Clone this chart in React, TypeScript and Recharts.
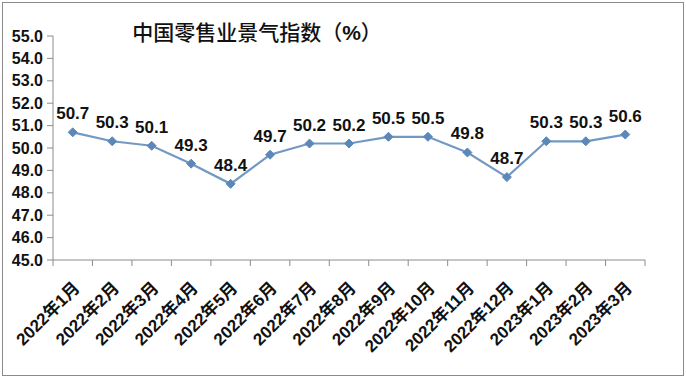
import { LineChart, Line, XAxis, YAxis, LabelList } from "recharts";

const months = [
  "2022年1月",
  "2022年2月",
  "2022年3月",
  "2022年4月",
  "2022年5月",
  "2022年6月",
  "2022年7月",
  "2022年8月",
  "2022年9月",
  "2022年10月",
  "2022年11月",
  "2022年12月",
  "2023年1月",
  "2023年2月",
  "2023年3月",
];
const retailIndex = [50.7, 50.3, 50.1, 49.3, 48.4, 49.7, 50.2, 50.2, 50.5, 50.5, 49.8, 48.7, 50.3, 50.3, 50.6];
const yTicks = [45, 46, 47, 48, 49, 50, 51, 52, 53, 54, 55];

const data = months.map((month, i) => ({ month, value: retailIndex[i] }));

const W = 686;
const H = 378;
const xAxisHeight = 118;
const margin = { top: 36, right: 41, bottom: 0, left: 0 };
const yAxisWidth = 53;
const halfBand = (W - margin.right - yAxisWidth) / months.length / 2;
const axisColor = "#8c8c8c";
const font = "'Liberation Sans', Arial, 'Noto Sans CJK SC', sans-serif";

function MonthTick(props: any) {
  const { x, y, payload, index } = props;
  const last = index === months.length - 1;
  return (
    <g>
      <line x1={x - halfBand} y1={y} x2={x - halfBand} y2={y + 6} stroke={axisColor} />
      {last && <line x1={x + halfBand} y1={y} x2={x + halfBand} y2={y + 6} stroke={axisColor} />}
      <text
        x={x + 8}
        y={y + 29}
        textAnchor="end"
        transform={`rotate(-45, ${x + 8}, ${y + 29})`}
        fontSize={17}
        fontWeight="bold"
        fontFamily={font}
        fill="#111"
      >
        {payload.value}
      </text>
    </g>
  );
}

function Diamond(props: any) {
  const { cx, cy } = props;
  if (cx == null || cy == null) return null;
  const r = 4.5;
  return (
    <path
      d={`M${cx},${cy - r} L${cx + r},${cy} L${cx},${cy + r} L${cx - r},${cy} Z`}
      fill="#5b88b8"
      stroke="#5b88b8"
    />
  );
}

export default function App() {
  return (
    <div style={{ position: "absolute", left: 0, top: 0, width: W, height: H, background: "#fff" }}>
      <div
        style={{
          position: "absolute",
          left: 2,
          top: 2,
          width: W - 6,
          height: H - 6,
          border: "1.5px solid #8a8a8a",
        }}
      />
      <div
        style={{
          position: "absolute",
          left: 0,
          width: 514,
          top: 16,
          textAlign: "center",
          fontSize: 21,
          fontFamily: "'Noto Sans CJK SC', sans-serif",
          fontWeight: 500,
          color: "#111",
          lineHeight: "30px",
        }}
      >
        中国零售业景气指数（<b style={{ fontFamily: "'Liberation Sans', Arial" }}>%</b>）
      </div>
      <LineChart width={W} height={H} data={data} margin={margin} style={{ position: "absolute", left: 0, top: 0 }}>
        <XAxis
          dataKey="month"
          interval={0}
          padding={{ left: halfBand, right: halfBand }}
          tickSize={0}
          tickMargin={0}
          tickLine={false}
          axisLine={{ stroke: axisColor }}
          tick={<MonthTick />}
          height={xAxisHeight}
        />
        <YAxis
          domain={[45, 55]}
          ticks={yTicks}
          interval={0}
          width={yAxisWidth}
          tickSize={6}
          tickMargin={4}
          tickLine={{ stroke: axisColor }}
          axisLine={{ stroke: axisColor }}
          tickFormatter={(v: number) => v.toFixed(1)}
          tick={{ fill: "#111", fontSize: 16, fontWeight: "bold", fontFamily: font }}
        />
        <Line
          type="linear"
          dataKey="value"
          stroke="#7399c2"
          strokeWidth={2.2}
          dot={<Diamond />}
          activeDot={false}
          isAnimationActive={false}
        >
          <LabelList
            dataKey="value"
            position="top"
            offset={13}
            formatter={(v: any) => Number(v).toFixed(1)}
            fill="#111"
            fontSize={17}
            fontWeight="bold"
            fontFamily={font}
          />
        </Line>
      </LineChart>
    </div>
  );
}
